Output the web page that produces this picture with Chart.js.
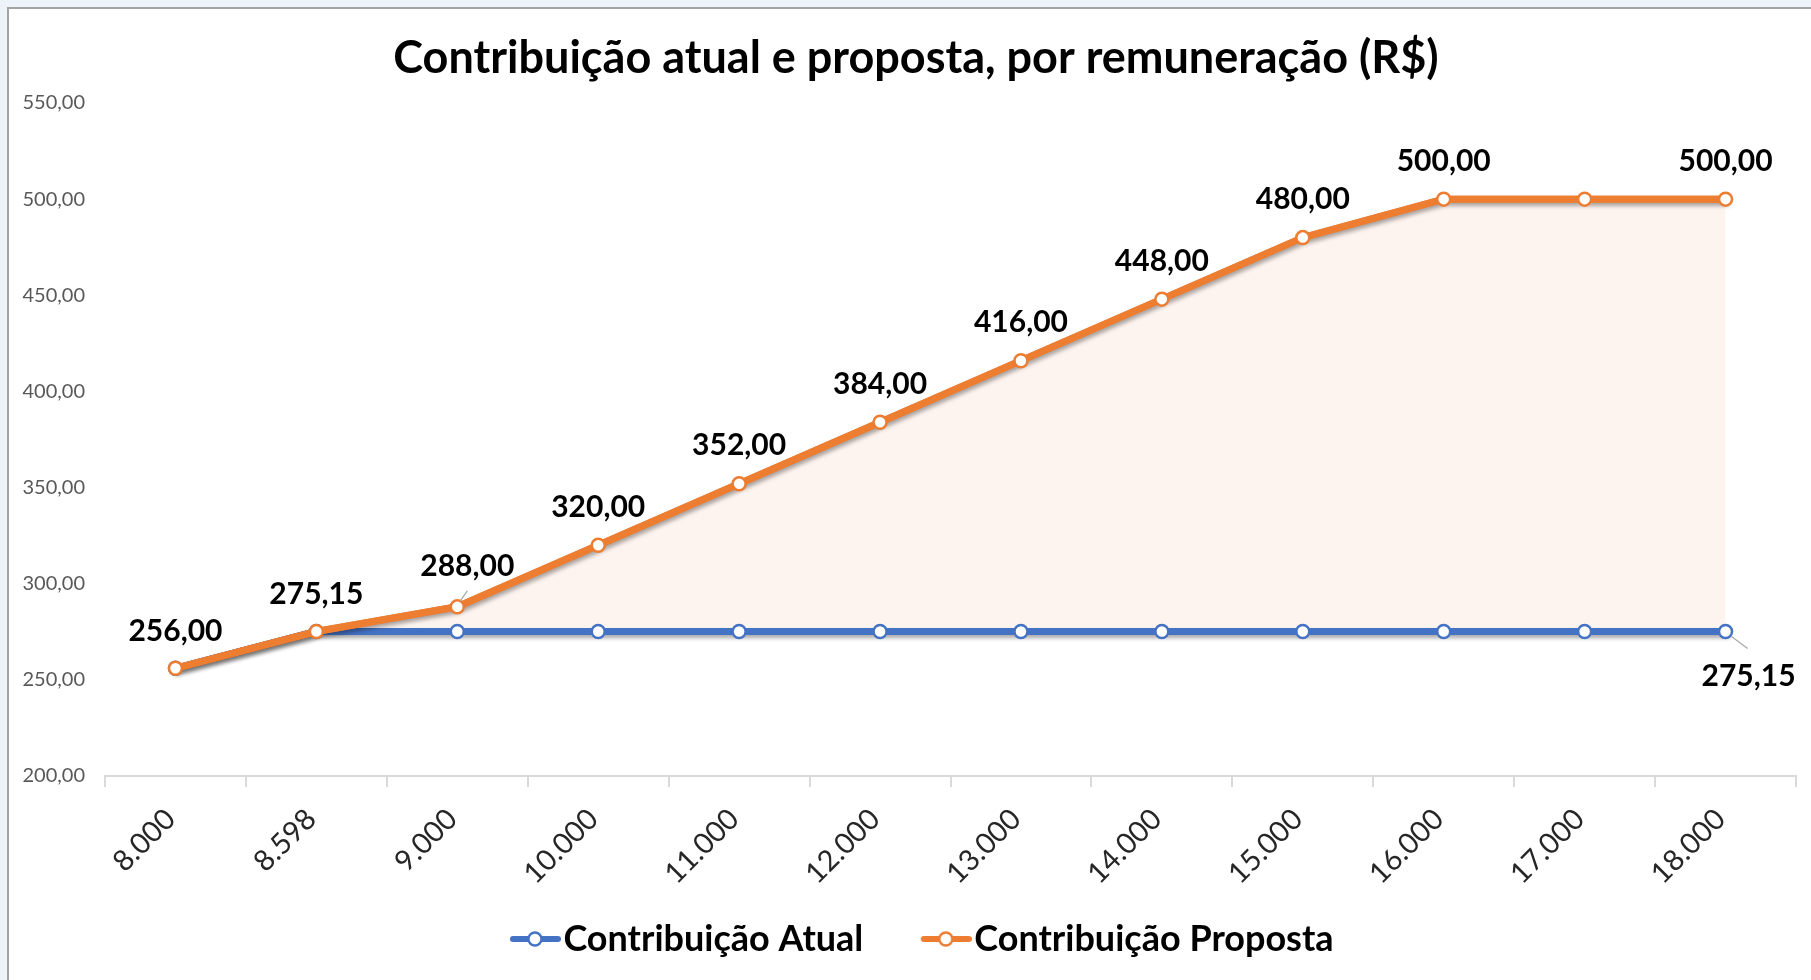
<!DOCTYPE html>
<html lang="pt-BR">
<head>
<meta charset="utf-8">
<title>Contribuição atual e proposta, por remuneração (R$)</title>
<script src="https://cdn.jsdelivr.net/npm/chart.js@4.4.1/dist/chart.umd.min.js"></script>
<style>
  html, body { margin: 0; padding: 0; width: 1811px; height: 980px; overflow: hidden; background: #eef3fa; }
  #moldura {
    position: absolute; left: 7px; top: 7px; width: 1804px; height: 973px;
    background: #fff; border-top: 2px solid #a3a3a3; border-left: 2px solid #a3a3a3; box-sizing: border-box;
  }
  #grafico { position: absolute; left: 0; top: 0; }
</style>
</head>
<body>
<div id="moldura"></div>
<canvas id="grafico" width="1811" height="980"></canvas>
<script>
// Faixas de remuneração (R$)
const faixas = ['8.000', '8.598', '9.000', '10.000', '11.000', '12.000',
                '13.000', '14.000', '15.000', '16.000', '17.000', '18.000'];

// Contribuição mensal (R$)
const contribuicaoAtual = [256.00, 275.15, 275.15, 275.15, 275.15, 275.15,
                           275.15, 275.15, 275.15, 275.15, 275.15, 275.15];
const contribuicaoProposta = [256.00, 275.15, 288.00, 320.00, 352.00, 384.00,
                              416.00, 448.00, 480.00, 500.00, 500.00, 500.00];

// Eixo vertical
const eixoMin = 200;
const eixoMax = 550;
const eixoPasso = 50;

const AZUL = '#4472c4';
const LARANJA = '#ed7d31';
const FONTE = 'Lato';

const formatar = v => Number(v).toFixed(2).replace('.', ',');

// Rótulos de valor: quais pontos recebem rótulo e onde ficam
const rotulos = {
  0: { indices: [11], deslocamento: { 11: [23, 45] }, guia: { 11: [6, 5, 22, 17] } },
  1: { indices: [0, 1, 2, 3, 4, 5, 6, 7, 8, 9, 11], padrao: [0, -38],
       deslocamento: { 0: [0, -37], 1: [0, -37], 2: [10, -40] }, guia: { 2: [3, -6, 10, -16] } }
};

const pluginRotulos = {
  id: 'rotulosValores',
  afterDatasetsDraw(chart) {
    const ctx = chart.ctx;
    ctx.save();
    ctx.font = `bold 30px ${FONTE}`;
    ctx.textAlign = 'center';
    ctx.textBaseline = 'middle';
    Object.keys(rotulos).forEach(k => {
      const ds = Number(k);
      const cfg = rotulos[k];
      const meta = chart.getDatasetMeta(ds);
      cfg.indices.forEach(i => {
        const pt = meta.data[i];
        const [dx, dy] = (cfg.deslocamento && cfg.deslocamento[i]) || cfg.padrao;
        const g = cfg.guia && cfg.guia[i];
        if (g) {
          ctx.strokeStyle = '#a6a6a6';
          ctx.lineWidth = 1.2;
          ctx.beginPath();
          ctx.moveTo(pt.x + g[0], pt.y + g[1]);
          ctx.lineTo(pt.x + g[2], pt.y + g[3]);
          ctx.stroke();
        }
        ctx.fillStyle = '#000';
        ctx.fillText(formatar(chart.data.datasets[ds].data[i]), pt.x + dx, pt.y + dy);
      });
    });
    ctx.restore();
  }
};

// Sombra suave sob cada linha (desenhada antes da linha e dos marcadores)
const pluginSombra = {
  id: 'sombraLinhas',
  beforeDatasetDraw(chart, args) {
    const linha = args.meta.dataset;
    if (!linha) return;
    const ctx = chart.ctx;
    ctx.save();
    ctx.shadowColor = 'rgba(0,0,0,0.35)';
    ctx.shadowBlur = 4;
    ctx.shadowOffsetX = 1.5;
    ctx.shadowOffsetY = 3;
    linha.draw(ctx, chart.chartArea);
    ctx.restore();
  }
};

// Deslocamento horizontal do título e da legenda
const pluginCentro = {
  id: 'ajusteCentro',
  afterLayout(chart) {
    const t = chart.titleBlock;
    if (t) { t.left += 18; t.right += 18; }
    const lg = chart.legend;
    if (lg) { lg.left += 0; lg.right += 0; }
  }
};

function simboloLegenda(cor) {
  const c = document.createElement('canvas');
  c.width = 114; c.height = 18;
  const g = c.getContext('2d');
  g.strokeStyle = cor;
  g.lineWidth = 6;
  g.lineCap = 'round';
  g.beginPath(); g.moveTo(66, 9); g.lineTo(111, 9); g.stroke();
  g.beginPath(); g.arc(88, 9, 6.5, 0, Math.PI * 2);
  g.fillStyle = '#fff'; g.fill();
  g.lineWidth = 2.4; g.stroke();
  return c;
}
const simbolos = [simboloLegenda(AZUL), simboloLegenda(LARANJA)];

new Chart(document.getElementById('grafico'), {
  type: 'line',
  data: {
    labels: faixas,
    datasets: [
      {
        label: 'Contribuição Atual',
        data: contribuicaoAtual,
        borderColor: AZUL,
        backgroundColor: AZUL,
        pointBackgroundColor: '#fff',
        pointBorderColor: AZUL,
        fill: false,
        order: 1
      },
      {
        label: 'Contribuição Proposta',
        data: contribuicaoProposta,
        borderColor: LARANJA,
        backgroundColor: '#fdf3ef',
        pointBackgroundColor: '#fff',
        pointBorderColor: LARANJA,
        fill: { target: '-1', above: '#fdf3ef', below: '#fdf3ef' },
        order: 0
      }
    ]
  },
  options: {
    responsive: false,
    animation: false,
    devicePixelRatio: 1,
    layout: { padding: { left: 0, right: 15, top: 0, bottom: 13 } },
    elements: {
      line: { borderWidth: 7, tension: 0, borderCapStyle: 'round', borderJoinStyle: 'round' },
      point: { radius: 6.5, borderWidth: 2.5, hoverRadius: 6.5 }
    },
    scales: {
      x: {
        type: 'category',
        offset: true,
        grid: { offset: true, drawOnChartArea: false, drawTicks: true, tickLength: 11, color: '#d9d9d9', lineWidth: 2 },
        border: { display: true, color: '#d9d9d9', width: 2 },
        ticks: {
          autoSkip: false, minRotation: 45, maxRotation: 45, padding: 15, labelOffset: -5,
          color: '#262626', font: { family: FONTE, size: 29 }
        },
        afterFit(scale) { scale.height = 135; }
      },
      y: {
        min: eixoMin,
        max: eixoMax,
        grid: { display: false, drawTicks: false },
        border: { display: false },
        ticks: {
          stepSize: eixoPasso, padding: 20, color: '#595959',
          font: { family: FONTE, size: 20 },
          callback: v => formatar(v)
        },
        afterFit(scale) { scale.width = 105; }
      }
    },
    plugins: {
      filler: { drawTime: 'beforeDatasetsDraw' },
      tooltip: { enabled: false },
      title: {
        display: true,
        text: 'Contribuição atual e proposta, por remuneração (R$)',
        color: '#000',
        font: { family: FONTE, size: 45, weight: 'bold' },
        padding: { top: 31, bottom: 18 }
      },
      legend: {
        display: true,
        position: 'bottom',
        labels: {
          color: '#000',
          font: { family: FONTE, size: 36, weight: 'bold' },
          usePointStyle: true,
          pointStyleWidth: 83,
          boxHeight: 36,
          padding: 10,
          generateLabels(chart) {
            const itens = Chart.defaults.plugins.legend.labels.generateLabels(chart);
            itens.forEach(it => { it.pointStyle = simbolos[it.datasetIndex]; });
            return itens.sort((a, b) => a.datasetIndex - b.datasetIndex);
          }
        }
      }
    }
  },
  plugins: [pluginSombra, pluginRotulos, pluginCentro]
});
</script>
</body>
</html>
